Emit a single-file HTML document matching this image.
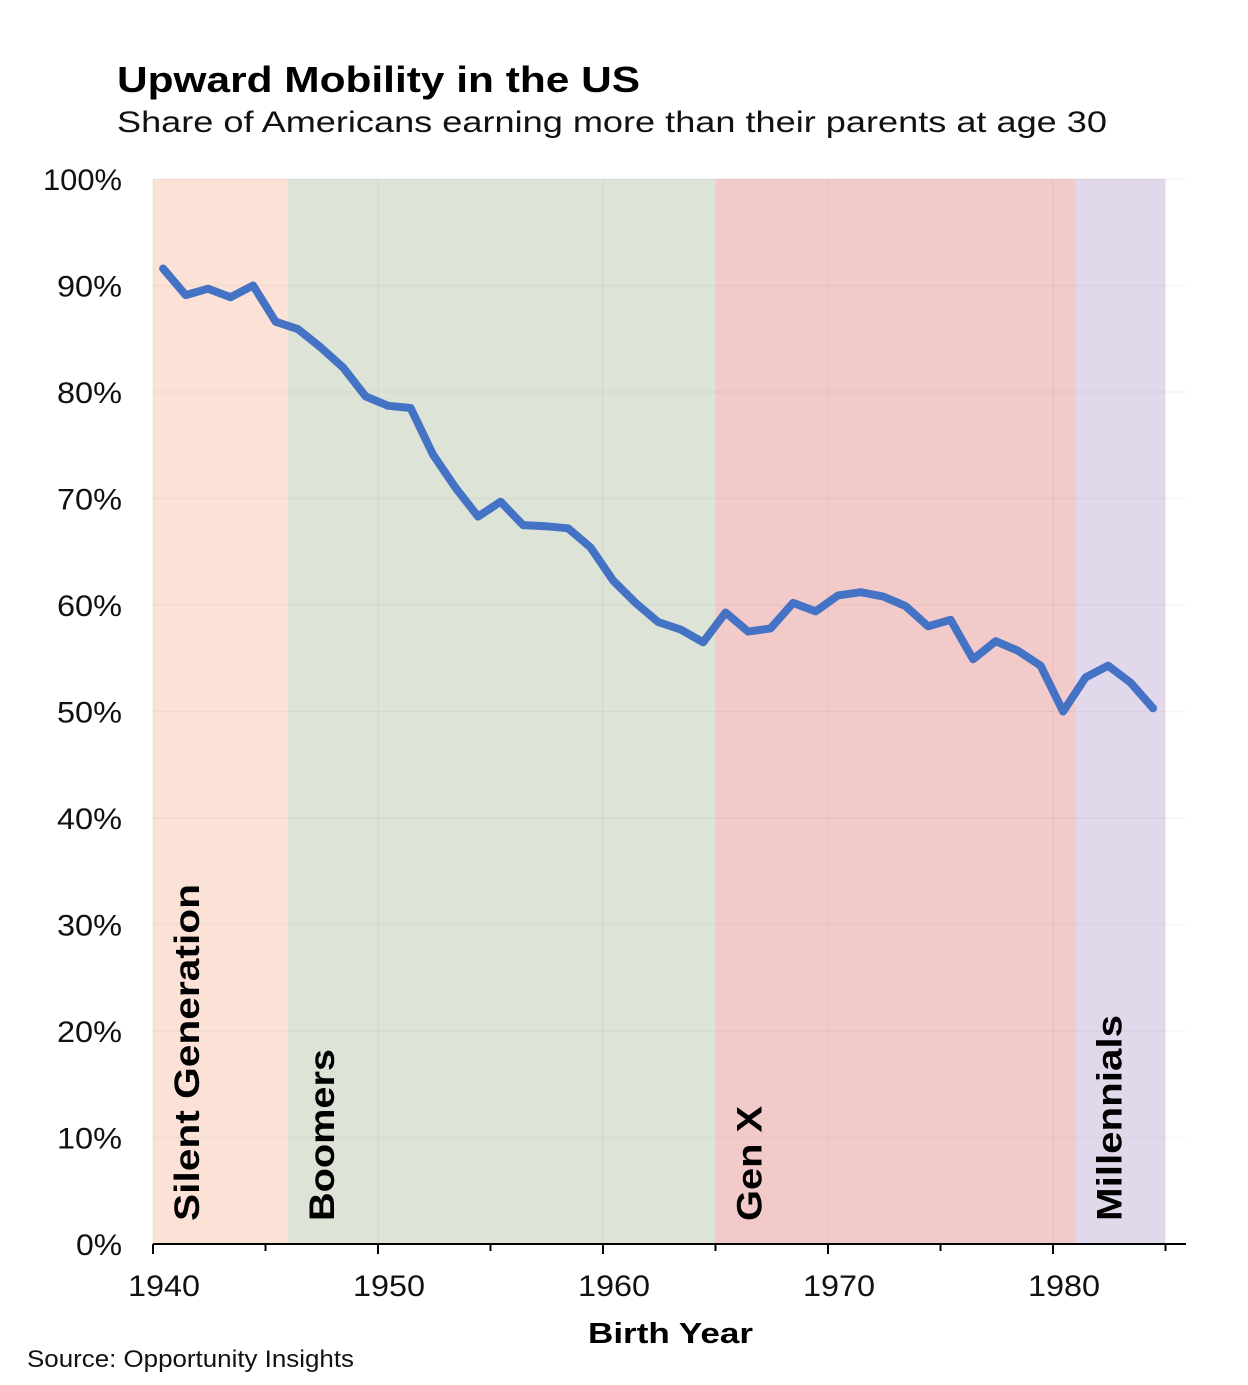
<!DOCTYPE html>
<html><head><meta charset="utf-8"><style>
body{margin:0;background:#fff;width:1248px;height:1380px;overflow:hidden;font-family:"Liberation Sans",sans-serif}
</style></head><body>
<svg id="chart" width="1248" height="1380" xmlns="http://www.w3.org/2000/svg" font-family="Liberation Sans, sans-serif">
<text x="117" y="92" font-size="36" font-weight="bold" fill="#000" textLength="523" lengthAdjust="spacingAndGlyphs">Upward Mobility in the US</text>
<text x="117" y="132" font-size="30" fill="#111" textLength="990" lengthAdjust="spacingAndGlyphs">Share of Americans earning more than their parents at age 30</text>
<g id="bands"></g><g id="grid"></g><g id="axes"></g><g id="series"></g><g id="labels"></g>
<text x="588" y="1343" font-size="29" font-weight="bold" textLength="165" lengthAdjust="spacingAndGlyphs">Birth Year</text>
<text x="27" y="1367" font-size="24" fill="#111" textLength="327" lengthAdjust="spacingAndGlyphs">Source: Opportunity Insights</text>
</svg>
<script>
const years=[1940,1941,1942,1943,1944,1945,1946,1947,1948,1949,1950,1951,1952,1953,1954,1955,1956,1957,1958,1959,1960,1961,1962,1963,1964,1965,1966,1967,1968,1969,1970,1971,1972,1973,1974,1975,1976,1977,1978,1979,1980,1981,1982,1983,1984];
const shares=[91.6,89.1,89.7,88.9,90.0,86.6,85.9,84.2,82.3,79.6,78.7,78.5,74.1,71.0,68.3,69.7,67.5,67.4,67.2,65.4,62.3,60.2,58.4,57.7,56.5,59.3,57.5,57.8,60.2,59.4,60.9,61.2,60.8,59.9,58.0,58.6,54.9,56.6,55.7,54.3,50.0,53.2,54.3,52.7,50.3];
const genNames=["Silent Generation","Boomers","Gen X","Millennials"];
const genStart=[1940,1946,1965,1981];
const genEnd=[1946,1965,1981,1985];
const yTicks=[0,10,20,30,40,50,60,70,80,90,100];
const xTicks=[1940,1950,1960,1970,1980];
const xMinor=[1945,1955,1965,1975,1985];
const genColors=["#fce2d6","#dde3d6","#f2caca","#e2d8ec"];
const genLen=[337,172,115,206];
const NS="http://www.w3.org/2000/svg";
const x=y=>153+(y-1940)*22.5;
const yS=v=>1244-v*10.65;
function mk(t,a,p){const e=document.createElementNS(NS,t);for(const k in a)e.setAttribute(k,a[k]);p.appendChild(e);return e;}
const bands=document.getElementById('bands'),grid=document.getElementById('grid'),axes=document.getElementById('axes'),series=document.getElementById('series'),labels=document.getElementById('labels');
genNames.forEach((g,i)=>{
 const r=mk('rect',{x:x(genStart[i]),y:yS(100),width:x(genEnd[i])-x(genStart[i]),height:yS(0)-yS(100),fill:genColors[i]},bands);
 
 
 const tx=x(genStart[i])+46, ty=1221;
 const t=mk('text',{x:tx,y:ty,transform:`rotate(-90 ${tx} ${ty})`,'font-size':35,'font-weight':'bold',fill:'#000',textLength:genLen[i],lengthAdjust:'spacingAndGlyphs'},labels);
 t.textContent=g;
 
 
});
yTicks.forEach(v=>{
 const l=mk('line',{x1:153,x2:1186,y1:yS(v),y2:yS(v),stroke:'#000','stroke-opacity':0.035,'stroke-width':1.5},grid);
 
 
 const s=v+'%';
 const len=v===100?79:(v===0?46:65);
 const t=mk('text',{x:122,y:yS(v)+11,'font-size':30,'text-anchor':'end',fill:'#111',textLength:len,lengthAdjust:'spacingAndGlyphs'},axes);
 t.textContent=s;
 
 
});
xTicks.forEach(v=>{
 const l=mk('line',{x1:x(v),x2:x(v),y1:yS(100),y2:yS(0),stroke:'#000','stroke-opacity':0.035,'stroke-width':1.5},grid);
 
 
 const tk=mk('line',{x1:x(v),x2:x(v),y1:1244,y2:1254,stroke:'#000','stroke-width':2},axes);
 
 
 const t=mk('text',{x:x(v)+11,y:1296,'font-size':30,'text-anchor':'middle',fill:'#111',textLength:72,lengthAdjust:'spacingAndGlyphs'},axes);
 t.textContent=v;
 
 
});
xMinor.forEach(v=>{
 const tk=mk('line',{x1:x(v),x2:x(v),y1:1244,y2:1251,stroke:'#000','stroke-width':2},axes);
 
 
});
const ax=mk('line',{x1:153,x2:1186,y1:1244,y2:1244,stroke:'#000','stroke-width':2},axes);


const pts=years.map((yr,i)=>`${x(yr+0.45).toFixed(1)},${yS(shares[i]).toFixed(1)}`).join(' ');
const pl=mk('polyline',{points:pts,fill:'none',stroke:'#4472c4','stroke-width':8,'stroke-linejoin':'round','stroke-linecap':'round'},series);


</script>
</body></html>
